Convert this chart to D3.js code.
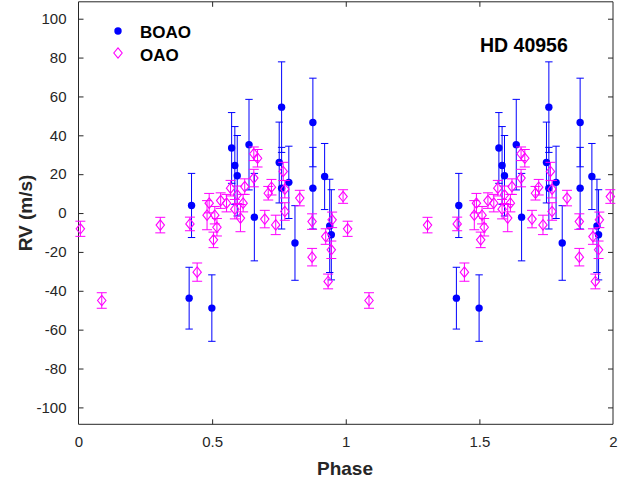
<!DOCTYPE html>
<html>
<head>
<meta charset="utf-8">
<script src="https://cdn.jsdelivr.net/npm/d3@7"></script>
<style>
  body { margin: 0; background: #fff; }
  svg { display: block; }
  text { font-family: "Liberation Sans", Arial, Helvetica, sans-serif; }
</style>
</head>
<body>
<svg id="chart" width="637" height="485"></svg>
<script>
// ---- data (phase in [0,1); each point is drawn at phase and phase+1) ----
const boaoPhase = [0.414, 0.423, 0.499, 0.573, 0.585, 0.594, 0.638, 0.658, 0.751, 0.760, 0.760, 0.787, 0.810, 0.877, 0.877, 0.921, 0.940, 0.946];
const boaoRV    = [-43.8, 3.9, -48.9, 33.5, 24.5, 19.2, 35.2, -2.1, 26.0, 54.5, 12.8, 15.8, -15.4, 46.6, 12.8, 18.8, -6.6, -11.2];
const boaoErr   = [15.9, 16.5, 17.1, 18.2, 20.0, 20.7, 23.3, 22.5, 20.8, 23.3, 21.0, 18.6, 19.2, 22.8, 21.0, 17.0, 24.0, 23.2];

const oaoPhase = [0.007, 0.087, 0.306, 0.417, 0.444, 0.481, 0.489, 0.505, 0.510, 0.518, 0.532, 0.554, 0.569, 0.585, 0.594, 0.606, 0.616, 0.622, 0.656, 0.656, 0.670, 0.697, 0.710, 0.722, 0.738, 0.766, 0.772, 0.772, 0.828, 0.874, 0.874, 0.925, 0.934, 0.949, 0.946, 0.990];
const oaoRV    = [-8.1, -45.0, -6.2, -5.6, -30.4, -1.1, 5.1, -13.8, -1.1, -7.3, 6.4, 5.1, 12.8, 2.0, 9.4, -2.6, 5.1, 13.6, 18.0, 30.5, 28.2, -3.1, 10.2, 13.3, -6.1, 21.4, 12.3, 0.8, 7.7, -4.4, -22.7, -12.1, -35.2, -3.5, -18.9, 8.5];
const oaoErr   = [3.9, 4.0, 4.0, 3.5, 4.7, 7.5, 5.0, 4.0, 4.5, 4.5, 4.0, 4.5, 4.0, 5.0, 4.5, 7.0, 4.5, 4.0, 4.5, 3.5, 4.5, 4.5, 3.5, 4.0, 5.0, 4.7, 4.5, 4.5, 4.0, 4.0, 4.5, 4.0, 3.8, 4.0, 4.5, 3.5];

const xTicks = [0, 0.5, 1, 1.5, 2];
const xTickLabels = ["0", "0.5", "1", "1.5", "2"];
const yTicks = [-100, -80, -60, -40, -20, 0, 20, 40, 60, 80, 100];
const yTickLabels = ["-100", "-80", "-60", "-40", "-20", "0", "20", "40", "60", "80", "100"];
const seriesNames = ["BOAO", "OAO"];
const titleText = "HD 40956";

// ---- layout ----
const svg = d3.select("#chart");
const pLeft = 78.5, pRight = 613, pTop = 1.8, pBottom = 424.3;
const x = d3.scaleLinear().domain([0, 2]).range([pLeft, pRight]);
const y = d3.scaleLinear().domain([-108.7, 108.7]).range([pBottom, pTop]);
const axisColor = "#262626";

svg.append("rect").attr("width", 637).attr("height", 485).attr("fill", "#fff");

// axes (inward ticks, box)
const tl = 5;
const gB = svg.append("g").attr("transform", `translate(0,${pBottom})`)
  .call(d3.axisBottom(x).tickValues(xTicks).tickFormat((d, i) => xTickLabels[i]).tickSizeInner(-tl).tickSizeOuter(0).tickPadding(12));
const gT = svg.append("g").attr("transform", `translate(0,${pTop})`)
  .call(d3.axisTop(x).tickValues(xTicks).tickFormat("").tickSizeInner(-tl).tickSizeOuter(0));
const gL = svg.append("g").attr("transform", `translate(${pLeft},0)`)
  .call(d3.axisLeft(y).tickValues(yTicks).tickFormat((d, i) => yTickLabels[i]).tickSizeInner(-tl).tickSizeOuter(0).tickPadding(12));
const gR = svg.append("g").attr("transform", `translate(${pRight},0)`)
  .call(d3.axisRight(y).tickValues(yTicks).tickFormat("").tickSizeInner(-tl).tickSizeOuter(0));
[gB, gT, gL, gR].forEach(g => {
  g.select(".domain").attr("stroke", axisColor).attr("stroke-width", 1);
  g.selectAll(".tick line").attr("stroke", axisColor);
  g.selectAll("text").attr("fill", axisColor).style("font-size", "15px");
});
gB.selectAll(".tick line").filter(d => d === 0 || d === 2).remove();
gT.selectAll(".tick line").filter(d => d === 0 || d === 2).remove();
gB.select(".domain").attr("d", `M${pLeft},0H${pRight}`);
gT.select(".domain").attr("d", `M${pLeft},0H${pRight}`);
gL.select(".domain").attr("d", `M0,${pBottom}V${pTop}`);
gR.select(".domain").attr("d", `M0,${pBottom}V${pTop}`);

// ---- build doubled data ----
function doubled(ph, rv, er) {
  const out = [];
  for (const k of [0, 1]) ph.forEach((p, i) => out.push({ p: p + k, v: rv[i], e: er[i] }));
  return out;
}
const boao = doubled(boaoPhase, boaoRV, boaoErr);
const oao = doubled(oaoPhase, oaoRV, oaoErr);

const blue = "#0000ff", mag = "#ff00ff";
const plot = svg.append("g");

function errorbars(data, color, cap) {
  const g = plot.append("g").attr("stroke", color).attr("stroke-width", 1).attr("fill", "none");
  g.selectAll("path").data(data).join("path")
    .attr("d", d => {
      const cx = x(d.p), y1 = y(d.v + d.e), y2 = y(d.v - d.e);
      return `M${cx},${y1}V${y2}M${cx - cap},${y1}H${cx + cap}M${cx - cap},${y2}H${cx + cap}`;
    });
}

// BOAO
errorbars(boao, blue, 3.7);
plot.append("g").selectAll("circle").data(boao).join("circle")
  .attr("cx", d => x(d.p)).attr("cy", d => y(d.v)).attr("r", 3.7).attr("fill", blue);

// OAO
errorbars(oao, mag, 5);
const diamond = (cx, cy) => `M${cx},${cy - 5.2}L${cx + 4.2},${cy}L${cx},${cy + 5.2}L${cx - 4.2},${cy}Z`;
plot.append("g").selectAll("path").data(oao).join("path")
  .attr("d", d => diamond(x(d.p), y(d.v)))
  .attr("fill", "none").attr("stroke", mag).attr("stroke-width", 1.1);

// ---- legend ----
const lg = svg.append("g");
lg.append("circle").attr("cx", 118).attr("cy", 31).attr("r", 3.7).attr("fill", blue);
lg.append("path").attr("d", diamond(118, 53)).attr("fill", "none").attr("stroke", mag).attr("stroke-width", 1.1);
lg.append("text").attr("x", 140).attr("y", 38.3).text(seriesNames[0])
  .style("font-size", "17px").style("font-weight", "bold").attr("fill", "#000");
lg.append("text").attr("x", 140).attr("y", 60.7).text(seriesNames[1])
  .style("font-size", "17px").style("font-weight", "bold").attr("fill", "#000");

// title
svg.append("text").attr("x", 480).attr("y", 52.3).text(titleText)
  .style("font-size", "19.5px").style("font-weight", "bold").attr("fill", "#000");

// axis labels
svg.append("text").attr("x", 345).attr("y", 475).attr("text-anchor", "middle").text("Phase")
  .style("font-size", "19px").style("font-weight", "bold").attr("fill", axisColor);
svg.append("text").attr("transform", "translate(32,213) rotate(-90)").attr("text-anchor", "middle").text("RV (m/s)")
  .style("font-size", "19px").style("font-weight", "bold").attr("fill", axisColor);
</script>
</body>
</html>
